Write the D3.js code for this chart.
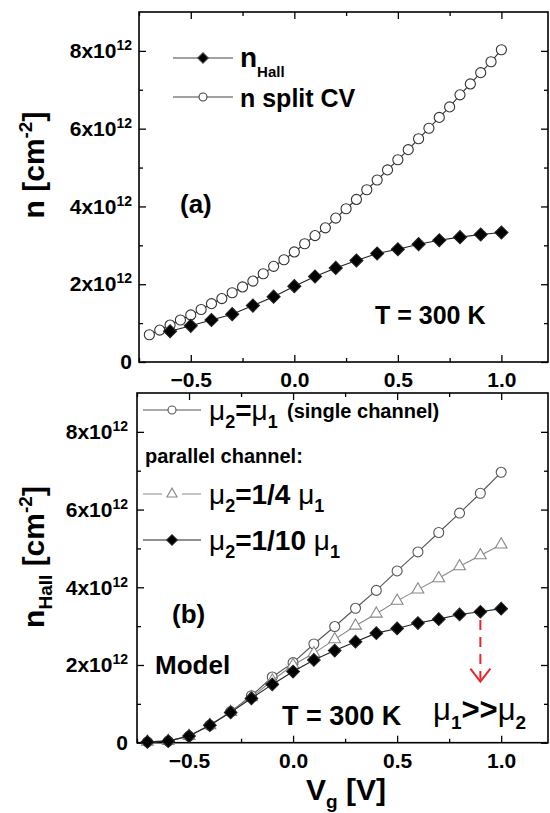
<!DOCTYPE html>
<html>
<head>
<meta charset="utf-8">
<script src="https://cdn.jsdelivr.net/npm/d3@7"></script>
<style>
  body { margin: 0; background: #fff; }
  svg { display: block; font-family: "Liberation Sans", Arial, sans-serif; font-weight: bold; }
</style>
</head>
<body>
<div id="chart"></div>
<script>
// (a) measured: split CV and Hall density
let vgCV = [-0.70,-0.65,-0.60,-0.55,-0.50,-0.45,-0.40,-0.35,-0.30,-0.25,-0.20,-0.15,-0.10,-0.05,
	0.00,0.05,0.10,0.15,0.20,0.25,0.30,0.35,0.40,0.45,0.50,0.55,0.60,0.65,0.70,0.75,0.80,0.85,0.90,0.95,1.00];
let nSplitCV = [0.70,0.82,0.95,1.08,1.21,1.35,1.50,1.63,1.78,1.93,2.08,2.27,2.46,2.63,
	2.83,3.04,3.25,3.45,3.70,3.94,4.18,4.43,4.68,4.94,5.20,5.46,5.74,6.01,6.29,6.56,6.87,7.15,7.44,7.72,8.03];
let vgHall = [-0.6,-0.5,-0.4,-0.3,-0.2,-0.1,0.0,0.1,0.2,0.3,0.4,0.5,0.6,0.7,0.8,0.9,1.0];
let nHall = [0.79,0.93,1.08,1.23,1.45,1.68,1.95,2.20,2.42,2.61,2.79,2.90,3.03,3.13,3.21,3.28,3.33];

// (b) model, units of 1e12 cm^-2
let vgModel = [-0.7,-0.6,-0.5,-0.4,-0.3,-0.2,-0.1,0.0,0.1,0.2,0.3,0.4,0.5,0.6,0.7,0.8,0.9,1.0];
let nSingle  = [0.02,0.04,0.17,0.45,0.80,1.21,1.69,2.06,2.54,2.99,3.46,3.92,4.42,4.91,5.41,5.91,6.42,6.96];
let nQuarter = [0.02,0.04,0.17,0.45,0.79,1.17,1.60,2.00,2.30,2.66,3.01,3.32,3.65,3.94,4.23,4.54,4.82,5.10];
let nTenth   = [0.02,0.04,0.17,0.45,0.78,1.14,1.50,1.83,2.13,2.37,2.60,2.82,2.94,3.08,3.18,3.30,3.37,3.45];

let xTicks = [-0.5, 0.0, 0.5, 1.0];
let xMinor = [-0.75, -0.25, 0.25, 0.75];
let yTicks = [0, 2, 4, 6, 8];
let yMinor = [1, 3, 5, 7];

let width = 550;
	height = 813;

let svg = d3.select('#chart').append('svg')
	.attr('width', width)
	.attr('height', height);

function pts(xs, ys) { return xs.map((d, i) => [d, ys[i]]); }

function yLabel(sel) {
	sel.each(function(d) {
		let t = d3.select(this).text('');
		if (d === 0) { t.text('0'); return; }
		t.append('tspan').text(d + 'x10');
		t.append('tspan').attr('font-size', 14).attr('dy', -8).text('12');
	});
}

function panel(top, bottom, left, right, lblPad) {
	let x = d3.scaleLinear().domain([-0.75, 1.225]).range([left, right]);
	let y = d3.scaleLinear().domain([0, 9]).range([bottom, top]);
	let g = svg.append('g');

	// minor ticks first
	g.append('g').attr('transform', `translate(0,${bottom})`)
		.call(d3.axisBottom(x).tickValues(xMinor).tickSize(-4).tickFormat(''));
	g.append('g').attr('transform', `translate(0,${top})`)
		.call(d3.axisTop(x).tickValues(xMinor).tickSize(-4).tickFormat(''));
	g.append('g').attr('transform', `translate(${left},0)`)
		.call(d3.axisLeft(y).tickValues(yMinor).tickSize(-4).tickFormat(''));
	g.append('g').attr('transform', `translate(${right},0)`)
		.call(d3.axisRight(y).tickValues(yMinor).tickSize(-4).tickFormat(''));

	g.append('g').attr('transform', `translate(0,${top})`)
		.call(d3.axisTop(x).tickValues(xTicks).tickSize(-7).tickFormat(''));
	g.append('g').attr('transform', `translate(${right},0)`)
		.call(d3.axisRight(y).tickValues(yTicks).tickSize(-7).tickFormat(''));

	let xa = g.append('g').attr('transform', `translate(0,${bottom})`)
		.call(d3.axisBottom(x).tickValues(xTicks).tickSize(-7).tickPadding(10).tickFormat(d3.format('.1f')));
	xa.selectAll('text').attr('font-size', 21).attr('fill', '#000');

	let ya = g.append('g').attr('transform', `translate(${left},0)`)
		.call(d3.axisLeft(y).tickValues(yTicks).tickSize(-7).tickPadding(lblPad));
	ya.selectAll('text').attr('font-size', 21).attr('fill', '#000').call(yLabel);

	g.selectAll('.domain').remove();
	g.selectAll('.tick line').attr('stroke', '#000').attr('stroke-width', 1.3);
	g.append('rect')
		.attr('x', left).attr('y', top)
		.attr('width', right - left).attr('height', bottom - top)
		.attr('fill', 'none').attr('stroke', '#000').attr('stroke-width', 1.6);
	return { x: x, y: y, g: g };
}

let diamond = d3.symbol().type(d3.symbolSquare);
let circle = d3.symbol().type(d3.symbolCircle);
let tri = d3.symbol().type(d3.symbolTriangle);

function series(p, data, color, sym, size, fill, rot) {
	let line = d3.line().x(d => p.x(d[0])).y(d => p.y(d[1]));
	p.g.append('path').datum(data)
		.attr('d', line).attr('fill', 'none')
		.attr('stroke', color).attr('stroke-width', 1.1);
	p.g.selectAll(null).data(data).enter().append('path')
		.attr('d', sym.size(size)())
		.attr('transform', d => `translate(${p.x(d[0])},${p.y(d[1])}) rotate(${rot || 0})`)
		.attr('fill', fill).attr('stroke', color).attr('stroke-width', 1.1);
}

function legendRow(x1, x2, yy, color, sym, size, fill, rot, gap) {
	let mid = (x1 + x2) / 2;
	if (gap) {
		svg.append('line').attr('x1', x1).attr('x2', mid - gap).attr('y1', yy).attr('y2', yy).attr('stroke', color);
		svg.append('line').attr('x1', mid + gap).attr('x2', x2).attr('y1', yy).attr('y2', yy).attr('stroke', color);
	} else {
		svg.append('line').attr('x1', x1).attr('x2', x2).attr('y1', yy).attr('y2', yy).attr('stroke', color);
	}
	svg.append('path').attr('d', sym.size(size)())
		.attr('transform', `translate(${mid},${yy}) rotate(${rot || 0})`)
		.attr('fill', fill).attr('stroke', color).attr('stroke-width', 1.1);
}

function label(x, y, size, parts, anchor) {
	let t = svg.append('text').attr('x', x).attr('y', y)
		.attr('font-size', size).attr('text-anchor', anchor || 'start');
	parts.forEach(p => {
		t.append('tspan').text(p.t)
			.attr('font-size', p.s || null)
			.attr('dy', p.dy || 0)
			.attr('font-weight', p.w || null);
	});
	return t;
}

// ---------- panel (a)
let pa = panel(12, 362, 139, 548, 7);
series(pa, pts(vgCV, nSplitCV), '#333', circle, 80, '#fff');
series(pa, pts(vgHall, nHall), '#222', diamond, 85, '#000', 45);

legendRow(173, 233, 58, '#444', diamond, 55, '#000', 45);
legendRow(173, 233, 97, '#444', circle, 50, '#fff');
label(240, 67, 28, [{t: 'n'}, {t: 'Hall', s: 15, dy: 10}]);
label(240, 107, 25, [{t: 'n split CV'}]);
label(180, 213, 26, [{t: '(a)'}]);
label(375, 324, 25, [{t: 'T = 300 K'}]);

// y title (a)
label(0, 0, 30, [{t: 'n [cm'}, {t: '-2', s: 19, dy: -12}, {t: ']', dy: 12}], 'middle')
	.attr('transform', 'translate(44,165) rotate(-90)');

// ---------- panel (b)
let pb = panel(393, 742.7, 137, 548, 9);
series(pb, pts(vgModel, nSingle), '#555', circle, 78, '#fff');
series(pb, pts(vgModel, nQuarter), '#888', tri, 60, '#fff');
series(pb, pts(vgModel, nTenth), '#222', diamond, 80, '#000', 45);

// red arrow mu1 >> mu2
let ax = pb.x(0.9), ay1 = pb.y(3.16), ay2 = pb.y(1.57);
svg.append('line').attr('x1', ax).attr('x2', ax).attr('y1', ay1).attr('y2', ay2 - 2)
	.attr('stroke', '#e8262c').attr('stroke-width', 2).attr('stroke-dasharray', '10,7');
svg.append('path').attr('d', `M${ax - 10},${ay2 - 13}L${ax},${ay2}L${ax + 10},${ay2 - 13}`)
	.attr('fill', 'none').attr('stroke', '#e8262c').attr('stroke-width', 2);

legendRow(143, 201, 410, '#555', circle, 50, '#fff');
legendRow(143, 201, 494, '#888', tri, 45, '#fff', 0, 10);
legendRow(143, 201, 540, '#222', diamond, 55, '#000', 45);

label(209, 420, 28, [{t: 'μ', w: 'normal'}, {t: '2', s: 18, dy: 8}, {t: '=', dy: -8}, {t: 'μ', w: 'normal'}, {t: '1', s: 18, dy: 8}]);
label(287, 418, 20, [{t: '(single channel)'}]);
label(145, 463, 20, [{t: 'parallel channel:'}]);
label(209, 504, 28, [{t: 'μ', w: 'normal'}, {t: '2', s: 18, dy: 8}, {t: '=1/4 ', dy: -8}, {t: 'μ', w: 'normal'}, {t: '1', s: 18, dy: 8}]);
label(209, 550, 28, [{t: 'μ', w: 'normal'}, {t: '2', s: 18, dy: 8}, {t: '=1/10 ', dy: -8}, {t: 'μ', w: 'normal'}, {t: '1', s: 18, dy: 8}]);

label(172, 623, 26, [{t: '(b)'}]);
label(155, 674, 26, [{t: 'Model'}]);
label(282, 725, 27, [{t: 'T = 300 K'}]);
label(433, 720, 31, [{t: 'μ', w: 'normal'}, {t: '1', s: 19, dy: 9}, {t: '>>', dy: -9}, {t: 'μ', w: 'normal'}, {t: '2', s: 19, dy: 9}]);

// y title (b)
label(0, 0, 30, [{t: 'n'}, {t: 'Hall', s: 19, dy: 8}, {t: ' [cm', dy: -8}, {t: '-2', s: 19, dy: -12}, {t: ']', dy: 12}], 'middle')
	.attr('transform', 'translate(44,557) rotate(-90)');

// x title
label(346, 800, 30, [{t: 'V'}, {t: 'g', s: 19, dy: 8}, {t: ' [V]', dy: -8}], 'middle');
</script>
</body>
</html>
